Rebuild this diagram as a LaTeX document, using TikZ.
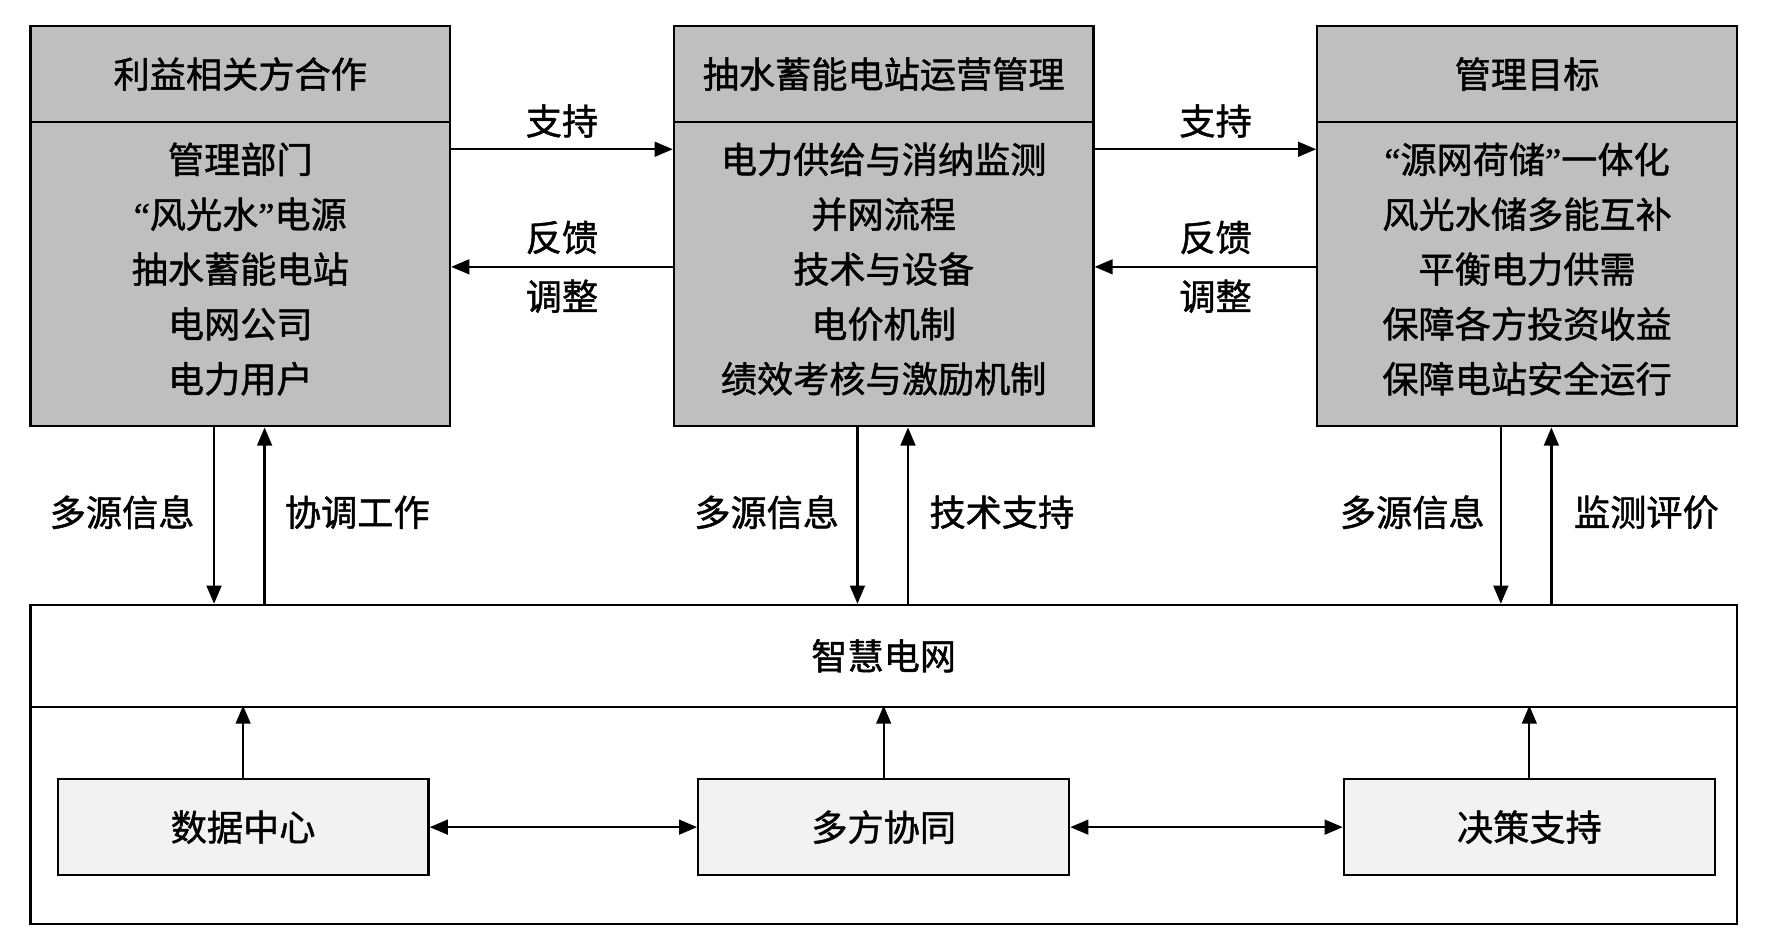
\documentclass[tikz,border=0pt]{standalone}
\usepackage{fontspec}
\setmainfont{Noto Sans CJK SC}[FakeBold=1.2,UprightFeatures={FakeBold=1.2}]
\newfontfamily\qf{Liberation Serif}[FakeBold=1.2]
\usetikzlibrary{arrows.meta}
\definecolor{hdrgray}{RGB}{191,191,191}
\definecolor{lightbox}{RGB}{242,242,242}
\newcommand{\myopenq}{{\qf “}}
\newcommand{\mycloseq}{{\qf ”}}
\begin{document}
\begin{tikzpicture}[x=0.5pt,y=-0.5pt,
  every node/.style={font=\fontsize{16pt}{24.25pt}\selectfont, inner sep=0pt},
  graybox/.style={draw, line width=1pt, fill=hdrgray, minimum width=185.5pt, align=center},
  hdrbox/.style={graybox, minimum height=42.5pt},
  bodybox/.style={graybox, minimum height=134.5pt},
  gridbox/.style={draw, line width=1pt, fill=white, minimum width=754.5pt},
  smallbox/.style={draw, line width=1pt, fill=lightbox, minimum width=164pt, minimum height=42.5pt},
  arr/.style={-{Triangle[length=8pt,width=6.5pt]}, line width=1pt},
  darr/.style={{Triangle[length=8pt,width=6.5pt]}-{Triangle[length=8pt,width=6.5pt]}, line width=1pt},
  lbl/.style={}
]
\useasboundingbox (0,0) rectangle (1568,824);
% top boxes
\node[hdrbox] (Lh) at (212.5,65.5) {利益相关方合作};
\node[bodybox] (Lb) at (212.5,242.5) {};
\node[align=center] (Lt) at (212.5,238) {管理部门\\\myopenq 风光水\mycloseq 电源\\抽水蓄能电站\\电网公司\\电力用户};
\node[hdrbox] (Mh) at (781.5,65.5) {抽水蓄能电站运营管理};
\node[bodybox] (Mb) at (781.5,242.5) {};
\node[align=center] (Mt) at (781.5,238) {电力供给与消纳监测\\并网流程\\技术与设备\\电价机制\\绩效考核与激励机制};
\node[hdrbox] (Rh) at (1350.5,65.5) {管理目标};
\node[bodybox] (Rb) at (1350.5,242.5) {};
\node[align=center] (Rt) at (1350.5,238) {\myopenq 源网荷储\mycloseq 一体化\\风光水储多能互补\\平衡电力供需\\保障各方投资收益\\保障电站安全运行};
% bottom
\node[gridbox, minimum height=45pt] (Bt) at (781.5,580) {智慧电网};
\node[gridbox, minimum height=96pt] (Bb) at (781.5,721) {};
\node[smallbox] (S1) at (215,731.5) {数据中心};
\node[smallbox] (S2) at (781.5,731.5) {多方协同};
\node[smallbox] (S3) at (1352.5,731.5) {决策支持};
% horizontal arrows
\draw[arr] ([yshift=-12.5pt]Lb.north east) -- ([yshift=-12.5pt]Mb.north west);
\draw[arr] ([yshift=-64.5pt]Mb.north west) -- ([yshift=-64.5pt]Lb.north east);
\draw[arr] ([yshift=-12.5pt]Mb.north east) -- ([yshift=-12.5pt]Rb.north west);
\draw[arr] ([yshift=-64.5pt]Rb.north west) -- ([yshift=-64.5pt]Mb.north east);
\node[lbl] (l1) at (497,107) {支持};
\node[lbl] (l2) at (497,210) {反馈};
\node[lbl] (l3) at (497,262) {调整};
\node[lbl] (l4) at (1075,107) {支持};
\node[lbl] (l5) at (1075,210) {反馈};
\node[lbl] (l6) at (1075,262) {调整};
% vertical arrows
\foreach \b in {Lb,Mb,Rb}{
  \draw[arr] ([xshift=-11.6pt]\b.south) -- ([xshift=-11.6pt]\b.south |- Bt.north);
  \draw[arr] ([xshift=10.75pt]\b.south |- Bt.north) -- ([xshift=10.75pt]\b.south);
}
\node[lbl] (v1) at (108,453) {多源信息};
\node[lbl] (v2) at (316,453) {协调工作};
\node[lbl] (v3) at (678,453) {多源信息};
\node[lbl] (v4) at (886,453) {技术支持};
\node[lbl] (v5) at (1249,453) {多源信息};
\node[lbl] (v6) at (1456,453) {监测评价};
% inner arrows
\draw[arr] (S1.north) -- (S1.north |- Bb.north);
\draw[arr] (S2.north) -- (S2.north |- Bb.north);
\draw[arr] (S3.north) -- (S3.north |- Bb.north);
\draw[darr] (S1.east) -- (S2.west);
\draw[darr] (S2.east) -- (S3.west);
\end{tikzpicture}
\end{document}
